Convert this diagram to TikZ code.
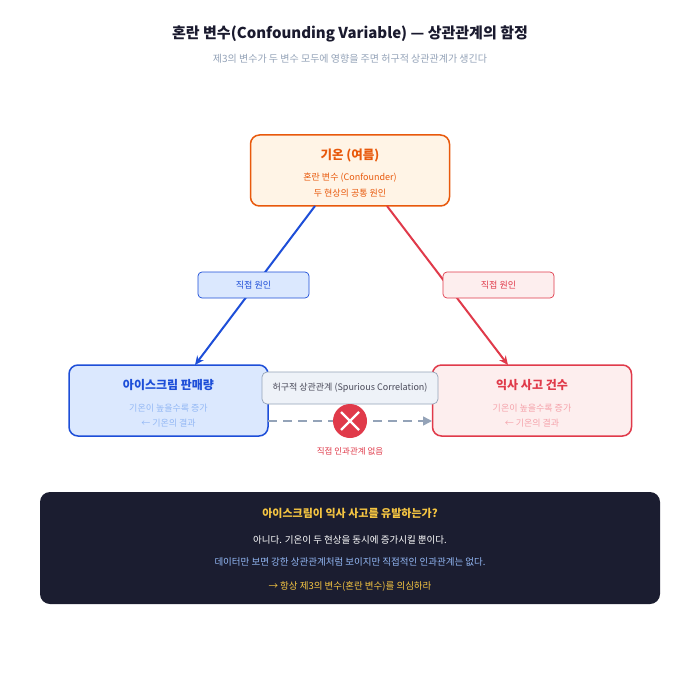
\documentclass[tikz,border=0pt]{standalone}
\usepackage{fontspec}
\setmainfont{Noto Sans CJK KR}
\newfontfamily\kb{Noto Sans CJK KR Bold}
\usetikzlibrary{arrows.meta}
\definecolor{org}{HTML}{E8590C}\definecolor{orgf}{HTML}{FFF4E6}
\definecolor{blu}{HTML}{1D4ED8}\definecolor{bluf}{HTML}{DBE8FE}\definecolor{blul}{HTML}{93B8F5}
\definecolor{rd}{HTML}{E03A4A}\definecolor{rdf}{HTML}{FDEEEE}\definecolor{rdl}{HTML}{F5A3AB}
\definecolor{gr}{HTML}{94A3B8}\definecolor{grf}{HTML}{EEF2F8}
\definecolor{dk}{HTML}{1B1D30}\definecolor{ylw}{HTML}{F5C542}\definecolor{ttl}{HTML}{1A1A2E}
\tikzset{box/.style={draw,line width=1.5pt,rounded corners=9pt,minimum width=199pt,minimum height=71pt},
lbl/.style={draw,line width=0.7pt,rounded corners=4pt,minimum width=111pt,minimum height=26pt,font=\fontsize{9}{10}\selectfont},
t/.style={inner sep=0pt}}
\begin{document}
\begin{tikzpicture}[x=1pt,y=-1pt]
\useasboundingbox[fill=white] (0,0) rectangle (700,700);
\node[t,text=ttl,font=\fontsize{15}{16}\selectfont\bfseries] at (350,34) {혼란 변수(Confounding Variable) — 상관관계의 함정};
\node[t,text=gr,font=\fontsize{10}{11}\selectfont] at (350,59) {제3의 변수가 두 변수 모두에 영향을 주면 허구적 상관관계가 생긴다};
\node[box,draw=org,fill=orgf] (top) at (350,170.5) {};
\node[t,text=org,font=\fontsize{12.5}{13}\selectfont\bfseries] at (350,156) {기온 (여름)};
\node[t,text=org,font=\fontsize{9}{10}\selectfont] at (350,178) {혼란 변수 (Confounder)};
\node[t,text=org,font=\fontsize{9}{10}\selectfont] at (350,193) {두 현상의 공통 원인};
\node[box,draw=blu,fill=bluf] (L) at (168.5,400.5) {};
\node[t,text=blu,font=\fontsize{12}{13}\selectfont\bfseries] at (168.5,385) {아이스크림 판매량};
\node[t,text=blul,font=\fontsize{9}{10}\selectfont] at (168.5,408) {기온이 높을수록 증가};
\node[t,text=blul,font=\fontsize{9}{10}\selectfont] at (168.5,423) {← 기온의 결과};
\node[box,draw=rd,fill=rdf] (R) at (532,400.5) {};
\node[t,text=rd,font=\fontsize{12}{13}\selectfont\bfseries] at (532,385) {익사 사고 건수};
\node[t,text=rdl,font=\fontsize{9}{10}\selectfont] at (532,408) {기온이 높을수록 증가};
\node[t,text=rdl,font=\fontsize{9}{10}\selectfont] at (532,423) {← 기온의 결과};
\coordinate (a1) at (315,206); \coordinate (a2) at (195,365);
\coordinate (b1) at (387,206); \coordinate (b2) at (508,365);
\draw[blu,line width=2pt,-{Stealth[length=9pt,width=8pt]}] (a1) -- (a2);
\draw[rd,line width=2pt,-{Stealth[length=9pt,width=8pt]}] (b1) -- (b2);
\node[lbl,draw=blu,fill=bluf,text=blu] (lb1) at (253.5,285) {직접 원인};
\node[lbl,draw=rd,fill=rdf,text=rd] (lb2) at (498.5,285) {직접 원인};
\coordinate (d1) at (268,421); \coordinate (d2) at (432,421);
\draw[gr,line width=1.5pt,dash pattern=on 9pt off 6pt,-{Triangle[length=9pt,width=9pt]}] (d1) -- (d2);
\node[draw=gr,fill=grf,line width=0.7pt,rounded corners=5pt,minimum width=176pt,minimum height=32pt,text=ttl!80,font=\fontsize{9}{10}\selectfont] (sp) at (350,388) {허구적 상관관계 (Spurious Correlation)};
\node[circle,fill=rd,minimum size=34pt,inner sep=0pt] (x) at (350,421) {};
\draw[white,line width=2.2pt] (341,412) -- (359,430) (359,412) -- (341,430);
\node[t,text=rd,font=\fontsize{8.5}{9}\selectfont] at (350,451) {직접 인과관계 없음};
\node[fill=dk,rounded corners=10pt,minimum width=620pt,minimum height=112pt] (bot) at (350,548) {};
\node[t,text=ylw,font=\fontsize{11}{12}\selectfont\bfseries] at (350,513) {아이스크림이 익사 사고를 유발하는가?};
\node[t,text=white,font=\fontsize{9.5}{10}\selectfont] at (350,540) {아니다. 기온이 두 현상을 동시에 증가시킬 뿐이다.};
\node[t,text=blul,font=\fontsize{9.5}{10}\selectfont] at (350,562) {데이터만 보면 강한 상관관계처럼 보이지만 직접적인 인과관계는 없다.};
\node[t,text=ylw,font=\fontsize{9.5}{10}\selectfont] at (350,586) {→ 항상 제3의 변수(혼란 변수)를 의심하라};
\end{tikzpicture}
\end{document}
